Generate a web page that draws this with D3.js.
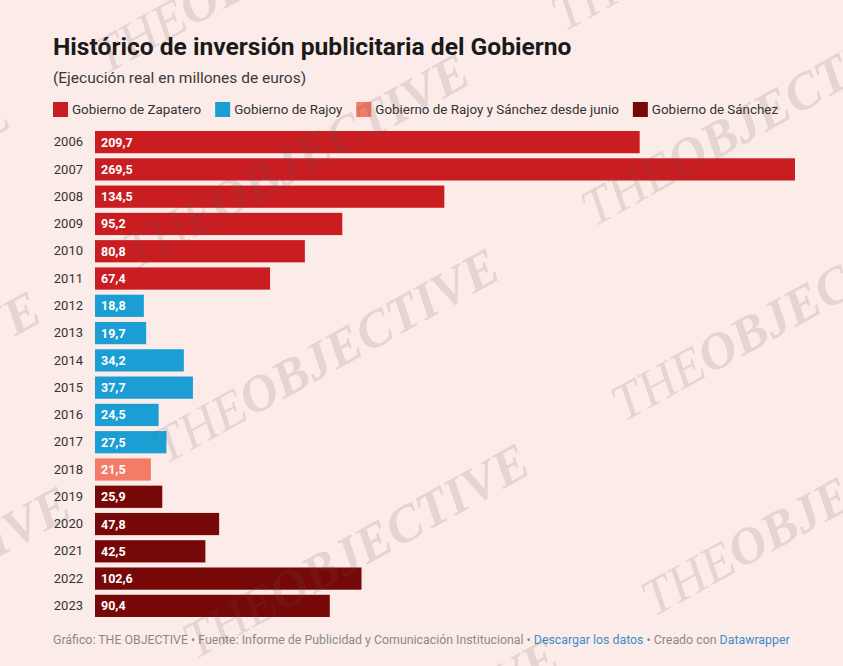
<!DOCTYPE html>
<html>
<head>
<meta charset="utf-8">
<script src="https://cdn.jsdelivr.net/npm/d3@7"></script>
<style>
  html, body { margin: 0; padding: 0; background: #fcece9; }
  svg { display: block; }
</style>
</head>
<body>
<svg id="chart" width="843" height="666"></svg>
<script>
// Annual government advertising spend, millions of euros
const years = ["2006","2007","2008","2009","2010","2011","2012","2013","2014","2015","2016","2017","2018","2019","2020","2021","2022","2023"];
const values = [209.7, 269.5, 134.5, 95.2, 80.8, 67.4, 18.8, 19.7, 34.2, 37.7, 24.5, 27.5, 21.5, 25.9, 47.8, 42.5, 102.6, 90.4];
const governments = ["z","z","z","z","z","z","r","r","r","r","r","r","rs","s","s","s","s","s"];
const legendKeys = ["z","r","rs","s"];
const legendLabels = ["Gobierno de Zapatero","Gobierno de Rajoy","Gobierno de Rajoy y Sánchez desde junio","Gobierno de Sánchez"];
const palette = ["#c91d22","#1b9ed3","#f27c66","#770808"];

const svg = d3.select("#chart");
const W = 843, H = 666;
const font = "Roboto, 'Open Sans', sans-serif";

svg.append("rect").attr("width", W).attr("height", H).attr("fill", "#fcece9");

// Title block
svg.append("text").attr("x", 53).attr("y", 55).attr("font-family", font)
  .attr("font-size", 24.6).attr("font-weight", "bold").attr("fill", "#1a1a1a")
  .text("Histórico de inversión publicitaria del Gobierno");
svg.append("text").attr("x", 53).attr("y", 83).attr("font-family", font)
  .attr("font-size", 15.5).attr("fill", "#3a3a3a")
  .text("(Ejecución real en millones de euros)");

// Legend
const color = d3.scaleOrdinal().domain(legendKeys).range(palette);
const legend = svg.append("g").attr("transform", "translate(53,102)");
let lx = 0;
legendKeys.forEach((k, i) => {
  const g = legend.append("g").attr("transform", `translate(${lx},0)`);
  g.append("rect").attr("width", 15).attr("height", 15).attr("fill", color(k));
  const t = g.append("text").attr("x", 19).attr("y", 12).attr("font-family", font)
    .attr("font-size", 13.4).attr("fill", "#333").text(legendLabels[i]);
  lx += 19 + t.node().getComputedTextLength() + 14;
});

// Bars
const x0 = 95;
const x = d3.scaleLinear().domain([0, 269.5]).range([x0, 795]);
const y = d3.scaleBand().domain(years).range([131, 131 + 27 * years.length]).paddingInner(0.185).paddingOuter(0.0);

const rows = years.map((yr, i) => ({ yr, v: values[i], g: governments[i] }));

svg.append("g").selectAll("rect").data(rows).join("rect")
  .attr("x", x(0)).attr("y", d => y(d.yr))
  .attr("width", d => x(d.v) - x(0)).attr("height", y.bandwidth())
  .attr("fill", d => color(d.g));

const fmt = v => d3.format(".1f")(v).replace(".", ",");

svg.append("g").selectAll("text").data(rows).join("text")
  .attr("x", x(0) + 6).attr("y", d => y(d.yr) + y.bandwidth() / 2)
  .attr("dy", "0.36em").attr("font-family", font).attr("font-size", 12.5)
  .attr("font-weight", "bold").attr("fill", "#fff")
  .text(d => fmt(d.v));

// Year axis
const yAxis = d3.axisLeft(y).tickSize(0).tickPadding(12);
const ga = svg.append("g").attr("transform", `translate(${x0},0)`).call(yAxis);
ga.select(".domain").remove();
ga.selectAll("text").attr("font-family", font).attr("font-size", 13).attr("fill", "#333");

// Footer
const foot = svg.append("text").attr("x", 53).attr("y", 644).attr("font-family", font)
  .attr("font-size", 12.35).attr("fill", "#8a8a8a");
foot.append("tspan").text("Gráfico: THE OBJECTIVE • Fuente: Informe de Publicidad y Comunicación Institucional • ");
foot.append("tspan").attr("fill", "#3a8fc7").text("Descargar los datos");
foot.append("tspan").text(" • Creado con ");
foot.append("tspan").attr("fill", "#3a8fc7").text("Datawrapper");

// Diagonal brand watermark tiled over the whole graphic
const wm = svg.append("g").attr("font-family", "'Liberation Serif', serif")
  .attr("font-style", "italic").attr("fill", "#6b5553").attr("opacity", 0.16)
  .attr("pointer-events", "none");
const ang = -29, rad = ang * Math.PI / 180;
const period = 490;
const ux = Math.cos(rad) * period, uy = Math.sin(rad) * period;
const origin = [165, 465], lineStep = [30, 195];
for (let k = -3; k <= 2; k++) {
  for (let j = -2; j <= 2; j++) {
    const px = origin[0] + k * lineStep[0] + j * ux;
    const py = origin[1] + k * lineStep[1] + j * uy;
    if (px > W + 40 || py < -40 || px < -460 || py > H + 240) continue;
    const t = wm.append("text").attr("transform", `translate(${px.toFixed(1)},${py.toFixed(1)}) rotate(${ang})`)
      .attr("font-size", 52);
    t.append("tspan").attr("font-weight", "normal").text("THE");
    t.append("tspan").attr("font-weight", "bold").text("OBJECTIVE");
  }
}
</script>
</body>
</html>
